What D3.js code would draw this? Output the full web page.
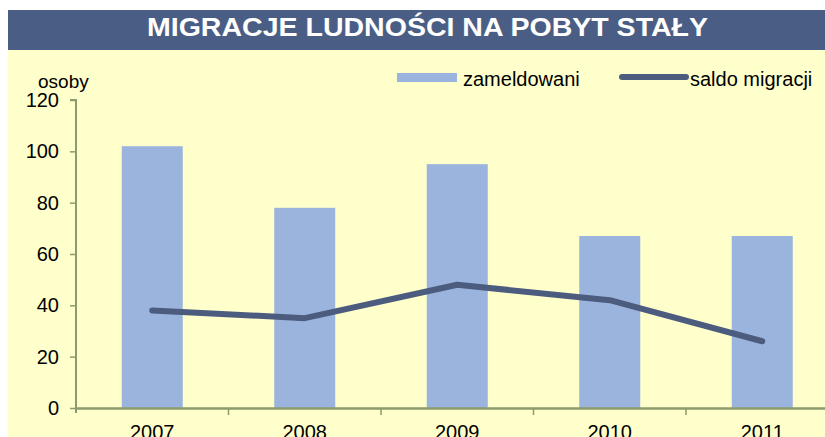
<!DOCTYPE html>
<html>
<head>
<meta charset="utf-8">
<script src="https://cdn.jsdelivr.net/npm/d3@7"></script>
<style>
  body { margin: 0; background: #fff; }
  svg text { font-family: "Liberation Sans", Arial, sans-serif; }
</style>
</head>
<body>
<div id="chart"></div>
<script>
(function(){

  // data
  var years = ["2007", "2008", "2009", "2010", "2011"]
  var zameldowani = [102, 78, 95, 67, 67]
  var saldo = [38, 35, 48, 42, 26]
  var yTicks = [0, 20, 40, 60, 80, 100, 120]

  var W = 825, H = 437
  var x0 = 76, yZero = 408, yTop = 100

  var svg = d3.select("#chart").append("svg")
        .attr("width", W)
        .attr("height", H)

  // background + title band
  svg.append("rect").attr("x", 8).attr("y", 50).attr("width", W - 8).attr("height", H - 50)
    .attr("fill", "#ffffcc")
  svg.append("rect").attr("x", 8).attr("y", 10).attr("width", W - 8).attr("height", 40)
    .attr("fill", "#4a5e85")
  svg.append("text")
    .attr("x", 147).attr("y", 36)
    .attr("textLength", 561)
    .attr("lengthAdjust", "spacingAndGlyphs")
    .attr("fill", "#fff")
    .style("font-weight", "bold")
    .style("font-size", "25px")
    .text("MIGRACJE LUDNOŚCI NA POBYT STAŁY")

  var x = d3.scaleBand().domain(years).range([x0, x0 + 152.5 * years.length]).padding(0)
  var y = d3.scaleLinear().domain([0, 120]).range([yZero, yTop])

  var bw = x.bandwidth() * 0.4

  // bars
  svg.selectAll(".bar")
    .data(years)
    .enter().append("rect")
    .attr("class", "bar")
    .attr("x", function(d){ return x(d) + (x.bandwidth() - bw) / 2 })
    .attr("y", function(d, i){ return y(zameldowani[i]) })
    .attr("width", bw)
    .attr("height", function(d, i){ return yZero - y(zameldowani[i]) })
    .attr("fill", "#9bb4dd")

  // axes
  var axisColor = "#8c9b6e"
  var yAxis = svg.append("g")
    .attr("transform", "translate(" + x0 + ",0)")
    .call(d3.axisLeft(y).tickValues(yTicks).tickSize(6).tickPadding(11))
  yAxis.select(".domain").attr("stroke", axisColor).attr("stroke-width", 2).attr("d", "M-6," + yTop + "H0V" + (yZero + 5))
  yAxis.selectAll(".tick line").attr("stroke", axisColor).attr("stroke-width", 1.5)
  yAxis.selectAll(".tick text").attr("fill", "#000").style("font-size", "20px")
    .style("font-family", "'Liberation Sans', Arial, sans-serif")

  var xAxis = svg.append("g")
    .attr("transform", "translate(0," + yZero + ")")
    .call(d3.axisBottom(x).tickSize(0).tickPadding(17))
  xAxis.select(".domain").attr("stroke", axisColor).attr("stroke-width", 2.5)
  xAxis.selectAll(".tick text").attr("fill", "#000").style("font-size", "20px")
    .style("font-family", "'Liberation Sans', Arial, sans-serif")
  // category boundary ticks
  xAxis.selectAll(".sep")
    .data(years)
    .enter().append("line")
    .attr("x1", function(d){ return x(d) + x.bandwidth() }).attr("x2", function(d){ return x(d) + x.bandwidth() })
    .attr("y1", 0).attr("y2", 7)
    .attr("stroke", axisColor).attr("stroke-width", 1.5)

  // line
  var line = d3.line()
    .x(function(d, i){ return x(years[i]) + x.bandwidth() / 2 })
    .y(function(d){ return y(d) })
  svg.append("path")
    .datum(saldo)
    .attr("d", line)
    .attr("fill", "none")
    .attr("stroke", "#4b5c7e")
    .attr("stroke-width", 6)
    .attr("stroke-linecap", "round")
    .attr("stroke-linejoin", "round")

  // unit label
  svg.append("text").attr("x", 38).attr("y", 88).style("font-size", "19px").text("osoby")

  // legend
  var lg = svg.append("g")
  lg.append("rect").attr("x", 397).attr("y", 73).attr("width", 60).attr("height", 9).attr("fill", "#9bb4dd")
  lg.append("text").attr("x", 463).attr("y", 86).style("font-size", "20px").text("zameldowani")
  lg.append("line").attr("x1", 622).attr("x2", 686).attr("y1", 77).attr("y2", 77)
    .attr("stroke", "#4b5c7e").attr("stroke-width", 6).attr("stroke-linecap", "round")
  lg.append("text").attr("x", 690).attr("y", 86).style("font-size", "20px").text("saldo migracji")

})()
</script>
</body>
</html>
